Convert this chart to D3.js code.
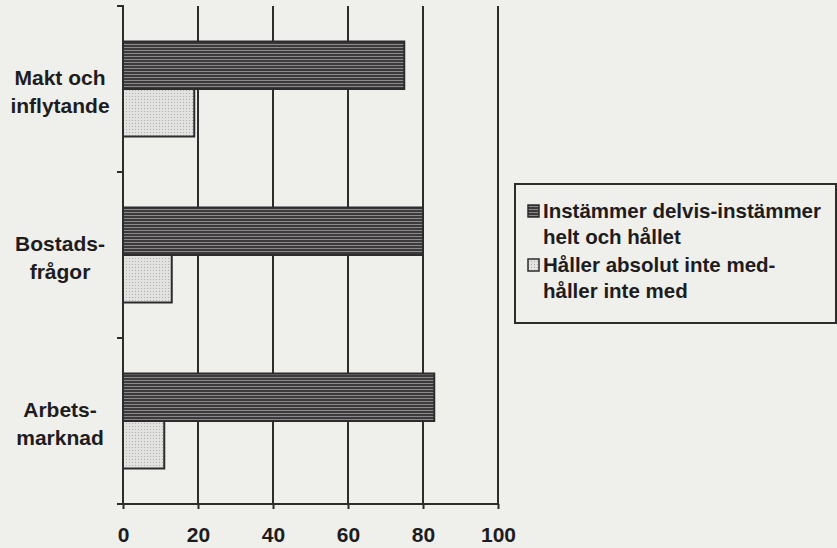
<!DOCTYPE html>
<html>
<head>
<meta charset="utf-8">
<script src="https://cdn.jsdelivr.net/npm/d3@7"></script>
<style>
  body { margin: 0; background: #efefec; }
  svg { display: block; font-family: Arial, "Liberation Sans", sans-serif; font-weight: bold; }
</style>
</head>
<body>
<svg id="chart" width="837" height="548"></svg>
<script>
// data
let categories = [["Makt och", "inflytande"], ["Bostads-", "frågor"], ["Arbets-", "marknad"]];
let agree    = [75, 80, 83];   // Instämmer delvis - instämmer helt och hållet
let disagree = [19, 13, 11];   // Håller absolut inte med - håller inte med
let xTicks   = [0, 20, 40, 60, 80, 100];
let legendLabels = [["Instämmer delvis-instämmer", "helt och hållet"], ["Håller absolut inte med-", "håller inte med"]];

let chart = d3.select("#chart");
let ink = "#2e2b2c";
let textInk = "#1e1c1d";

// fill patterns
let defs = chart.append("defs");
let stripes = defs.append("pattern").attr("id", "stripes")
    .attr("patternUnits", "userSpaceOnUse").attr("width", 6).attr("height", 3);
stripes.append("rect").attr("width", 6).attr("height", 3).attr("fill", "#8a8a8a");
stripes.append("rect").attr("width", 6).attr("height", 2).attr("fill", "#3c3a3b");

let dots = defs.append("pattern").attr("id", "dots")
    .attr("patternUnits", "userSpaceOnUse").attr("width", 3).attr("height", 3);
dots.append("rect").attr("width", 3).attr("height", 3).attr("fill", "#e2e2e0");
dots.append("rect").attr("width", 1).attr("height", 1).attr("fill", "#afafad");

// scales
let x = d3.scaleLinear().domain([0, 100]).range([123, 498]);
let y = d3.scaleBand().domain(d3.range(categories.length)).range([6, 504]);
let barH = 47.5;

// gridlines
chart.append("g").selectAll("line")
    .data(xTicks.slice(1)).enter()
    .append("line")
        .attr("x1", d => x(d)).attr("x2", d => x(d))
        .attr("y1", 6).attr("y2", 504)
        .attr("stroke", ink).attr("stroke-width", 2);

// bars
let bars = chart.append("g");
bars.selectAll("rect.agree")
    .data(agree).enter()
    .append("rect")
        .attr("class", "agree")
        .attr("x", x(0))
        .attr("y", (d, i) => y(i) + y.bandwidth() / 2 - barH)
        .attr("width", d => x(d) - x(0))
        .attr("height", barH)
        .attr("fill", "url(#stripes)")
        .attr("stroke", ink).attr("stroke-width", 2);
bars.selectAll("rect.disagree")
    .data(disagree).enter()
    .append("rect")
        .attr("class", "disagree")
        .attr("x", x(0))
        .attr("y", (d, i) => y(i) + y.bandwidth() / 2)
        .attr("width", d => x(d) - x(0))
        .attr("height", barH)
        .attr("fill", "url(#dots)")
        .attr("stroke", ink).attr("stroke-width", 2);

// x axis
let xAxis = d3.axisBottom(x).tickValues(xTicks).tickSize(5).tickSizeOuter(0).tickPadding(18);
let xAxisGroup = chart.append("g")
    .attr("transform", "translate(0,504)")
    .call(xAxis);
xAxisGroup.select(".domain").attr("stroke", ink).attr("stroke-width", 2).attr("d", "M" + (x(0) - 6) + ",0H" + x(100));
xAxisGroup.selectAll(".tick line").attr("stroke", ink).attr("stroke-width", 2);
xAxisGroup.selectAll(".tick text")
    .attr("fill", textInk).attr("font-size", 21).attr("font-weight", "bold")
    .attr("font-family", "Arial, 'Liberation Sans', sans-serif");

// y axis line with ticks at category boundaries
chart.append("line")
    .attr("x1", x(0)).attr("x2", x(0)).attr("y1", 5).attr("y2", 505)
    .attr("stroke", ink).attr("stroke-width", 2);
chart.append("g").selectAll("line")
    .data(d3.range(categories.length)).enter()
    .append("line")
        .attr("x1", x(0) - 6).attr("x2", x(0))
        .attr("y1", d => y(d)).attr("y2", d => y(d))
        .attr("stroke", ink).attr("stroke-width", 2);

// category labels
let catLabels = chart.append("g").selectAll("text")
    .data(categories).enter()
    .append("text")
        .attr("x", 60)
        .attr("y", (d, i) => y(i) + y.bandwidth() / 2 - 4)
        .attr("text-anchor", "middle")
        .attr("font-size", 21)
        .attr("fill", textInk);
catLabels.selectAll("tspan")
    .data(d => d).enter()
    .append("tspan")
        .attr("x", 60)
        .attr("dy", (d, i) => i == 0 ? 0 : 28)
        .text(d => d);

// legend
let legend = chart.append("g");
legend.append("rect")
    .attr("x", 515).attr("y", 184).attr("width", 321).attr("height", 139)
    .attr("fill", "none").attr("stroke", ink).attr("stroke-width", 2);
let fills = ["url(#stripes)", "url(#dots)"];
legendLabels.forEach(function (lines, i) {
    let top = 218 + i * 54;
    legend.append("rect")
        .attr("x", 528).attr("y", top - 13).attr("width", 11).attr("height", 12)
        .attr("fill", fills[i]).attr("stroke", ink).attr("stroke-width", 1.5);
    legend.append("text")
        .attr("x", 543).attr("y", top)
        .attr("font-size", 20.5).attr("fill", textInk)
        .text(lines[0]);
    legend.append("text")
        .attr("x", 543).attr("y", top + 26)
        .attr("font-size", 20.5).attr("fill", textInk)
        .text(lines[1]);
});
</script>
</body>
</html>
